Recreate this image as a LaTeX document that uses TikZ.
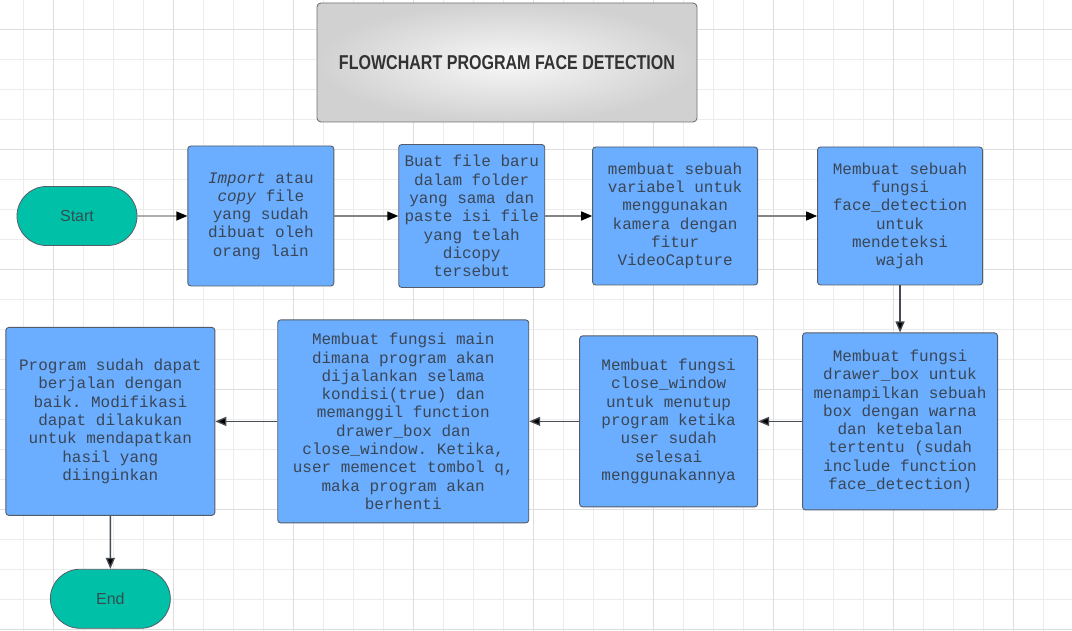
\documentclass[tikz,border=0pt]{standalone}
\usepackage{fontspec}
\setmainfont{Liberation Sans}
\setmonofont{Liberation Mono}
\usepackage{graphicx}
\usetikzlibrary{shapes,positioning,arrows.meta}

\definecolor{gridminor}{RGB}{236,236,236}
\definecolor{gridmajor}{RGB}{222,222,222}
\definecolor{boxfill}{RGB}{107,174,255}
\definecolor{boxline}{RGB}{84,92,106}
\definecolor{boxtext}{RGB}{58,70,86}
\definecolor{termfill}{RGB}{0,193,167}
\definecolor{termtext}{RGB}{50,78,82}
\definecolor{flowline}{RGB}{70,75,82}
\definecolor{flowtop}{RGB}{130,132,136}

\tikzset{
  process/.style={draw=boxline, fill=boxfill, rounded corners=3pt, line width=0.9pt,
    align=center, text=boxtext, inner sep=0pt,
    font=\ttfamily\fontsize{16}{18.3}\selectfont},
  terminal/.style={draw=boxline, fill=termfill, rounded rectangle, line width=0.8pt,
    minimum width=120pt, minimum height=59pt, inner sep=0pt, text=termtext,
    font=\fontsize{16}{19}\selectfont},
  titlebox/.style={draw=black!55, rounded corners=4pt, line width=0.9pt,
    inner color=white!97!black, outer color=black!18, text=black!80},
}

\begin{document}
\begin{tikzpicture}[x=1pt, y=-1pt, >={Triangle[length=11pt,width=9pt]}]
  \useasboundingbox (0,0) rectangle (1072,631);
  \fill[white] (0,0) rectangle (1072,631);
  % grid
  \foreach \k in {0,...,34}
    \draw[gridminor, line width=0.8pt] ({23.3+30*\k},0) -- ({23.3+30*\k},631);
  \foreach \k in {0,...,20}
    \draw[gridminor, line width=0.8pt] (0,{29.3+30*\k}) -- (1072,{29.3+30*\k});
  \foreach \k in {0,...,8}
    \draw[gridmajor, line width=0.9pt] ({53.3+120*\k},0) -- ({53.3+120*\k},631);
  \foreach \k in {0,...,5}
    \draw[gridmajor, line width=0.9pt] (0,{29.3+120*\k}) -- (1072,{29.3+120*\k});

  \node[titlebox, minimum width=380pt, minimum height=119pt] (title) at (507,62.5)
    {\resizebox{336pt}{14pt}{\bfseries FLOWCHART PROGRAM FACE DETECTION}};

  \node[terminal] (start) at (77,216) {Start};
  \node[process, minimum width=146pt, minimum height=140pt, right=50pt of start] (import)
    {\textit{Import} atau\\\textit{copy} file\\yang sudah\\dibuat oleh\\orang lain};
  \node[process, minimum width=146pt, minimum height=143pt, right=64pt of import] (newfile)
    {Buat file baru\\dalam folder\\yang sama dan\\paste isi file\\yang telah\\dicopy\\tersebut};
  \node[process, minimum width=165pt, minimum height=138pt, right=47pt of newfile] (camera)
    {membuat sebuah\\variabel untuk\\menggunakan\\kamera dengan\\fitur\\VideoCapture};
  \node[process, minimum width=165pt, minimum height=138pt, right=59pt of camera] (detect)
    {Membuat sebuah\\fungsi\\face\_detection\\untuk\\mendeteksi\\wajah};
  \node[process, minimum width=195pt, minimum height=177pt, below=47pt of detect] (drawer)
    {Membuat fungsi\\drawer\_box untuk\\menampilkan sebuah\\box dengan warna\\dan ketebalan\\tertentu (sudah\\include function\\face\_detection)};
  \node[process, minimum width=178pt, minimum height=171pt, left=44pt of drawer] (closewin)
    {Membuat fungsi\\close\_window\\untuk menutup\\program ketika\\user sudah\\selesai\\menggunakannya};
  \node[process, minimum width=251pt, minimum height=203pt, left=50pt of closewin] (mainfn)
    {Membuat fungsi main\\dimana program akan\\dijalankan selama\\kondisi(true) dan\\memanggil function\\drawer\_box dan\\close\_window. Ketika,\\user memencet tombol q,\\maka program akan\\berhenti};
  \node[process, minimum width=209pt, minimum height=188pt, left=62pt of mainfn] (result)
    {Program sudah dapat\\berjalan dengan\\baik. Modifikasi\\dapat dilakukan\\untuk mendapatkan\\hasil yang\\diinginkan};
  \node[terminal, below=53pt of result] (stop) {End};

  \path [-{Triangle[length=11pt,width=9pt,black]}, draw=flowtop, line width=1.3pt] (start) edge (import)
  (import) edge (newfile)
  (newfile) edge (camera)
  (camera) edge (detect);
  \path [->, draw=flowline, line width=1.3pt] (detect) edge (drawer)
  (drawer) edge (closewin)
  (closewin) edge (mainfn)
  (mainfn) edge (result)
  (result) edge (stop);
\end{tikzpicture}
\end{document}
